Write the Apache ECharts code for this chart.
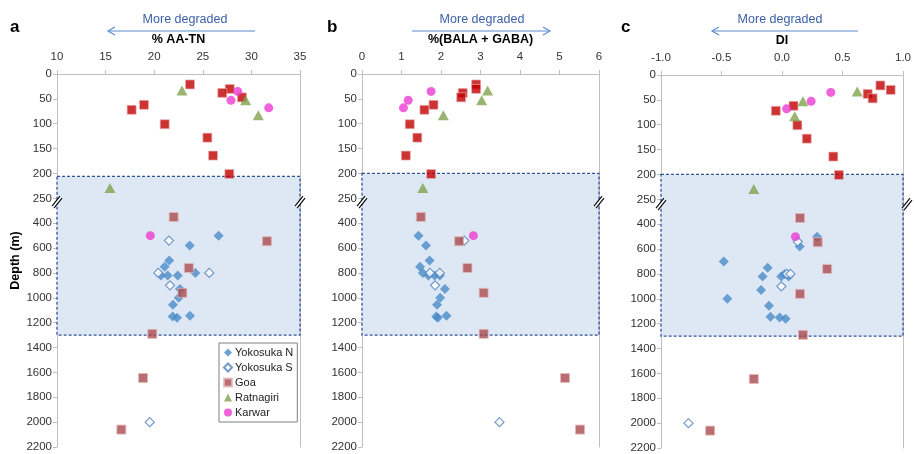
<!DOCTYPE html>
<html>
<head>
<meta charset="utf-8">
<script src="https://cdn.jsdelivr.net/npm/echarts@6/dist/echarts.min.js"></script>
<style>
  html, body { margin: 0; padding: 0; background: #fff; }
  #main { width: 914px; height: 454px; }
</style>
</head>
<body>
<div id="main"></div>
<script>
// depth axis tick labels (broken axis: 50 m steps down to 250, then 200 m steps)
var depthLabels = ['0', '50', '100', '150', '200', '250', '400', '600', '800', '1000', '1200', '1400', '1600', '1800', '2000', '2200'];

// Yokosuka N
var yokoNDepth = [500, 580, 700, 750, 800, 820, 820, 820, 930, 1000, 1055, 1145, 1150, 1160];
var yokoN_A = [26.63, 23.65, 21.55, 21.08, 24.23, 20.7, 21.39, 22.42, 22.65, 22.52, 21.93, 23.68, 21.9, 22.35];
var yokoN_B = [1.43, 1.62, 1.71, 1.47, 1.54, 1.68, 1.84, 1.97, 2.10, 1.98, 1.90, 2.14, 1.88, 1.92];
var yokoN_C = [0.29, 0.146, -0.481, -0.119, 0.022, -0.16, -0.006, 0.054, -0.173, -0.452, -0.108, -0.095, -0.019, 0.03];

// Yokosuka S
var yokoSDepth = [540, 800, 800, 900, 2000];
var yokoS_A = [21.52, 20.42, 25.67, 21.63, 19.54];
var yokoS_B = [2.59, 1.72, 1.97, 1.85, 3.48];
var yokoS_C = [0.13, 0.04, 0.07, -0.005, -0.773];

// Goa (deep)
var goaDepth = [350, 545, 760, 960, 1290, 1645, 2060];
var goa_A = [22.0, 31.6, 23.56, 22.9, 19.8, 18.85, 16.62];
var goa_B = [1.49, 2.46, 2.67, 3.08, 3.08, 5.14, 5.52];
var goa_C = [0.149, 0.295, 0.373, 0.149, 0.173, -0.233, -0.594];

// Goa (shallow, bright red)
var goaSurfDepth = [21, 30, 38, 47, 62, 72, 101, 128, 164, 201];
var goaSurf_A = [23.68, 27.77, 27.0, 29.03, 18.95, 17.68, 21.08, 25.47, 26.05, 27.73];
var goaSurf_B = [2.89, 2.89, 2.55, 2.51, 1.81, 1.58, 1.21, 1.40, 1.11, 1.75];
var goaSurf_C = [0.813, 0.898, 0.708, 0.749, 0.095, -0.051, 0.127, 0.205, 0.424, 0.47];

// Ratnagiri
var ratDepth = [33, 53, 83, 229];
var rat_A = [22.86, 29.41, 30.71, 15.45];
var rat_B = [3.18, 3.03, 2.06, 1.54];
var rat_C = [0.622, 0.173, 0.105, -0.233];

// Karwar
var karDepth = [35, 53, 68, 500];
var kar_A = [28.59, 27.9, 31.78, 19.6];
var kar_B = [1.75, 1.17, 1.05, 2.82];
var kar_C = [0.403, 0.241, 0.038, 0.111];

var titles = ['% AA-TN', '%(BALA + GABA)', 'DI'];
var letters = ['a', 'b', 'c'];

// depth -> position on the broken axis
function pos(d) {
  return d <= 250 ? d / 50 : 4 + d / 200;
}
function pts(vals, depths) {
  return vals.map(function (v, k) { return [v, pos(depths[k])]; });
}

var grids = [
  { left: 57, top: 74, width: 243, height: 373 },
  { left: 362, top: 74, width: 237, height: 373 },
  { left: 661, top: 75, width: 246, height: 376 }
];
var xRange = [
  { min: 10, max: 35, step: 5, dec: 0, boxTop: 4.12 },
  { min: 0, max: 6, step: 1, dec: 0, boxTop: 4 },
  { min: -1, max: 1, step: 0.5, dec: 1, boxTop: 4 }
];
var letterX = [10, 327, 621];
var arrows = [
  { x1: 108, x2: 255, dir: 'left', cx: 185 },
  { x1: 412, x2: 550, dir: 'right', cx: 482 },
  { x1: 712, x2: 858, dir: 'left', cx: 780 }
];

var panelData = [
  [yokoN_A, yokoS_A, goa_A, goaSurf_A, rat_A, kar_A],
  [yokoN_B, yokoS_B, goa_B, goaSurf_B, rat_B, kar_B],
  [yokoN_C, yokoS_C, goa_C, goaSurf_C, rat_C, kar_C]
];

var axisColor = '#BFBFBF';
var xAxes = [], yAxes = [], series = [], graphics = [];

grids.forEach(function (g, i) {
  var r = xRange[i];
  xAxes.push({
    gridIndex: i, type: 'value', position: 'top',
    min: r.min, max: r.max, interval: r.step,
    name: titles[i], nameLocation: 'middle', nameGap: 23,
    nameTextStyle: { fontWeight: 'bold', fontSize: 12.5, color: '#000' },
    axisLine: { onZero: false, lineStyle: { color: axisColor } },
    axisTick: { length: 4, lineStyle: { color: axisColor } },
    axisLabel: { fontSize: 11.5, color: '#333', margin: 11,
      formatter: function (v) { return v.toFixed(r.dec); } },
    splitLine: { show: false }
  });
  yAxes.push({
    gridIndex: i, type: 'value', inverse: true, min: 0, max: 15, interval: 1,
    name: i === 0 ? 'Depth (m)' : '', nameLocation: 'middle', nameGap: 28,
    nameTextStyle: { fontWeight: 'bold', fontSize: 12.5, color: '#000' },
    axisLine: { onZero: false, lineStyle: { color: axisColor } },
    axisTick: { length: 4, lineStyle: { color: axisColor } },
    axisLabel: { fontSize: 11.5, color: '#333', margin: 5,
      formatter: function (v) { return depthLabels[Math.round(v)]; } },
    splitLine: { show: false }
  });
  yAxes.push({
    gridIndex: i, type: 'value', position: 'right', inverse: true, min: 0, max: 15,
    axisLine: { show: true, onZero: false, lineStyle: { color: axisColor } },
    axisTick: { show: false }, axisLabel: { show: false }, splitLine: { show: false }
  });

  var yi = i * 2;
  var d = panelData[i];
  // shaded deep-water box
  series.push({
    type: 'scatter', xAxisIndex: i, yAxisIndex: yi, z: 1, silent: true,
    data: [], symbolSize: 0,
    markArea: {
      silent: true,
      itemStyle: { color: '#DEE8F5', borderColor: '#2F5597', borderWidth: 1.3, borderType: [3, 2] },
      label: { show: false },
      data: [[{ coord: [r.min, r.boxTop] }, { coord: [r.max, 10.5] }]]
    }
  });
  series.push({
    name: 'Yokosuka N', type: 'scatter', xAxisIndex: i, yAxisIndex: yi, z: 3,
    symbol: 'diamond', symbolSize: 10,
    itemStyle: { color: '#4B8BC8' }, data: pts(d[0], yokoNDepth)
  });
  series.push({
    name: 'Yokosuka S', type: 'scatter', xAxisIndex: i, yAxisIndex: yi, z: 3,
    symbol: 'diamond', symbolSize: 9,
    itemStyle: { color: '#FFFFFF', borderColor: '#4F81BD', borderWidth: 1.2 }, data: pts(d[1], yokoSDepth)
  });
  series.push({
    name: 'Goa', type: 'scatter', xAxisIndex: i, yAxisIndex: yi, z: 3,
    symbol: 'rect', symbolSize: 9,
    itemStyle: { color: '#A94A4E', borderColor: '#E3B9BA', borderWidth: 1 }, data: pts(d[2], goaDepth)
  });
  series.push({
    name: 'Goa surface', type: 'scatter', xAxisIndex: i, yAxisIndex: yi, z: 3,
    symbol: 'rect', symbolSize: 9,
    itemStyle: { color: '#C00000', borderColor: '#EBB4B4', borderWidth: 0.8 }, data: pts(d[3], goaSurfDepth)
  });
  series.push({
    name: 'Ratnagiri', type: 'scatter', xAxisIndex: i, yAxisIndex: yi, z: 3,
    symbol: 'triangle', symbolSize: [11, 10],
    itemStyle: { color: '#7FA24C' }, data: pts(d[4], ratDepth)
  });
  series.push({
    name: 'Karwar', type: 'scatter', xAxisIndex: i, yAxisIndex: yi, z: 3,
    symbol: 'circle', symbolSize: 9,
    itemStyle: { color: '#EC3BD3' }, data: pts(d[5], karDepth)
  });

  // panel letter
  graphics.push({ type: 'text', z: 10, style: { text: letters[i], x: letterX[i], y: 27,
    font: 'bold 17px "Liberation Sans"', fill: '#000', verticalAlign: 'middle' } });
  // "More degraded" and arrow
  var a = arrows[i];
  graphics.push({ type: 'text', z: 10, style: { text: 'More degraded', x: a.cx, y: 20,
    font: '12.5px "Liberation Sans"', fill: '#3A5FA5', align: 'center', verticalAlign: 'middle' } });
  graphics.push({ type: 'line', z: 10, shape: { x1: a.x1, y1: 31, x2: a.x2, y2: 31 },
    style: { stroke: '#5B8BD0', lineWidth: 1.2 } });
  var hx = a.dir === 'left' ? a.x1 : a.x2;
  var s = a.dir === 'left' ? 1 : -1;
  graphics.push({ type: 'polyline', z: 10, shape: { points: [[hx + 7 * s, 27], [hx, 31], [hx + 7 * s, 35]] },
    style: { stroke: '#5B8BD0', lineWidth: 1.2, fill: null } });

  // axis break marks on left and right edges
  var by = g.top + 5.15 * g.height / 15;
  [g.left, g.left + g.width].forEach(function (bx) {
    graphics.push({ type: 'polygon', z: 20, shape: { points: [[bx - 5, by + 4], [bx + 3, by - 6], [bx + 5, by - 4], [bx - 3, by + 6]] },
      style: { fill: '#fff' } });
    graphics.push({ type: 'line', z: 21, shape: { x1: bx - 5, y1: by + 4, x2: bx + 3, y2: by - 6 }, style: { stroke: '#000', lineWidth: 1.1 } });
    graphics.push({ type: 'line', z: 21, shape: { x1: bx - 3, y1: by + 6, x2: bx + 5, y2: by - 4 }, style: { stroke: '#000', lineWidth: 1.1 } });
  });
});

var myChart = echarts.init(document.getElementById('main'));
var option = {
  animation: false,
  textStyle: { fontFamily: 'Liberation Sans' },
  grid: grids.map(function (g) { return { left: g.left, top: g.top, width: g.width, height: g.height }; }),
  xAxis: xAxes,
  yAxis: yAxes,
  legend: {
    data: ['Yokosuka N', 'Yokosuka S', 'Goa', 'Ratnagiri', 'Karwar'],
    orient: 'vertical', left: 219, top: 343, z: 30,
    backgroundColor: '#fff', borderColor: '#7F7F7F', borderWidth: 1,
    padding: [4, 4, 4, 4], itemGap: 4, itemWidth: 8, itemHeight: 8,
    textStyle: { fontSize: 11, color: '#222', padding: [0, 0, 0, -2] }
  },
  graphic: graphics,
  series: series
};
myChart.setOption(option);
</script>
</body>
</html>
